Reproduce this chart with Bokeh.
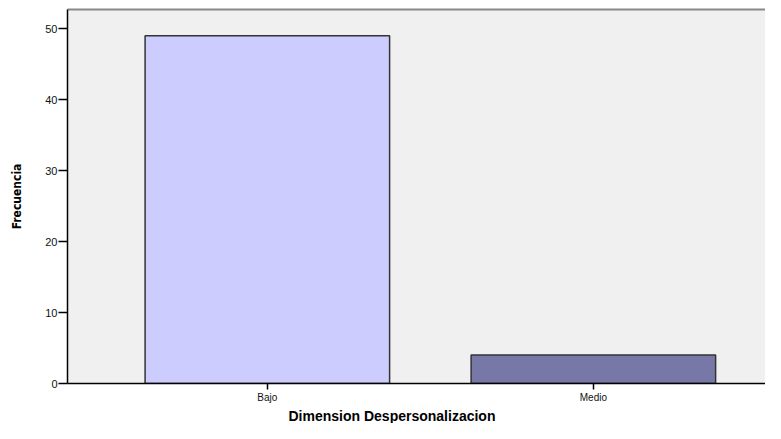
from bokeh.plotting import figure
from bokeh.models import Range1d, FixedTicker, Title, LinearAxis, ColumnDataSource
from bokeh.embed import file_html
from bokeh.resources import INLINE

categories = ["Bajo", "Medio"]
frequencies = [49, 4]
bar_colors = ["#CCCCFF", "#7878A8"]
y_ticks = [0, 10, 20, 30, 40, 50]
x_title = "Dimension Despersonalizacion"
y_title = "Frecuencia"

xpos = list(range(len(categories)))
src = ColumnDataSource(dict(x=xpos, top=frequencies, color=bar_colors, cat=categories))

p = figure(width=765, height=423, output_backend="svg", toolbar_location=None,
           x_range=Range1d(-0.613, 1.528), y_range=Range1d(0, 52.7),
           min_border_left=67, min_border_top=9, min_border_right=0, min_border_bottom=0)
p.background_fill_color = "#F0F0F0"
p.border_fill_color = "white"
p.outline_line_color = None
p.xgrid.visible = False
p.ygrid.visible = False

p.vbar(x="x", top="top", width=0.75, source=src, fill_color="color",
       line_color="#333333", line_width=1.5)

# y axis
ya = p.yaxis[0]
ya.ticker = FixedTicker(ticks=y_ticks)
ya.major_tick_out = 9
ya.major_tick_in = 0
ya.minor_tick_line_color = None
ya.axis_line_color = "black"
ya.axis_line_width = 1.5
ya.major_tick_line_width = 1.5
ya.major_label_text_font = "Liberation Sans"
ya.major_label_text_font_size = "11px"
ya.major_label_text_color = "#111111"
ya.major_label_standoff = 1
ya.axis_label = y_title
ya.axis_label_text_font = "DejaVu Sans Condensed, Liberation Sans"
ya.axis_label_text_font_style = "bold"
ya.axis_label_text_font_size = "12px"
ya.axis_label_text_color = "black"
ya.axis_label_standoff = 18

# x axis
xa = p.xaxis[0]
xa.ticker = FixedTicker(ticks=xpos)
xa.major_label_overrides = {i: c for i, c in zip(xpos, categories)}
xa.major_tick_out = 6
xa.major_tick_in = 0
xa.minor_tick_line_color = None
xa.axis_line_color = "black"
xa.axis_line_width = 1.5
xa.major_tick_line_width = 1.5
xa.major_label_text_font = "Liberation Sans"
xa.major_label_text_font_size = "10px"
xa.major_label_text_color = "#111111"
xa.major_label_standoff = 2

# top border as an empty axis
top = LinearAxis(ticker=FixedTicker(ticks=[]), axis_line_color="#888888", axis_line_width=2,
                 major_tick_line_color=None, minor_tick_line_color=None,
                 major_label_text_color=None)
p.add_layout(top, "above")

p.add_layout(Title(text=x_title, align="left", offset=221, text_font="Liberation Sans",
                   text_font_style="bold", text_font_size="14px", text_color="black",
                   standoff=0), "below")

open("out.html", "w").write(file_html(p, INLINE))
